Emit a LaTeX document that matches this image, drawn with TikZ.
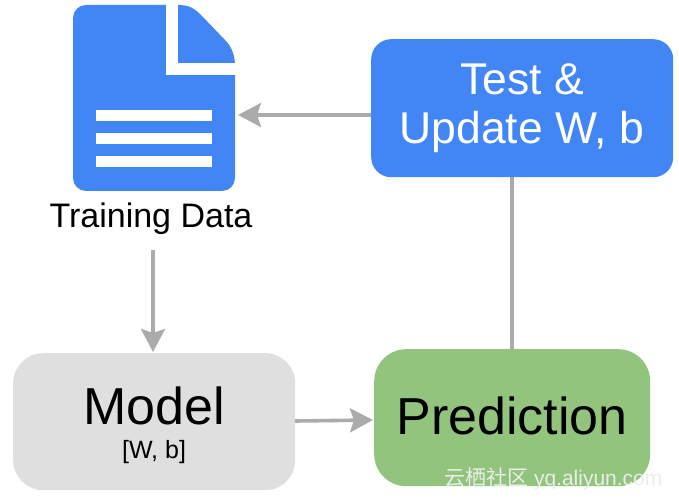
\documentclass[tikz,border=0pt]{standalone}
\usepackage{fontspec}
\setmainfont{Liberation Sans}
\newfontfamily\cjkwm{Noto Sans CJK SC}
\usetikzlibrary{arrows.meta}
\definecolor{docblue}{HTML}{4285F4}
\definecolor{boxgreen}{HTML}{93C47D}
\definecolor{boxgrey}{HTML}{E0DFE0}
\definecolor{linegrey}{HTML}{ABABAB}
\definecolor{wmark}{HTML}{EAEDE8}
\tikzset{
  flowbox/.style={rounded corners=#1,anchor=north west,inner sep=0pt,align=center},
  link/.style={draw=linegrey,line width=3.6pt},
  linkarrow/.style={link,-{Stealth[length=23pt,width=24pt,inset=4pt]}},
}
\begin{document}
\begin{tikzpicture}[x=1pt,y=-1pt]
\useasboundingbox (0,0) rectangle (679,502);
% document icon
\node[minimum width=162pt,minimum height=186pt,inner sep=0pt] (doc) at (154,98) {};
\fill[docblue,rounded corners=13pt] (73,5) rectangle (235,191);
\fill[white] (166,0) rectangle (240,75);
\fill[docblue] (178,5) .. controls (190,5) and (195,9) .. (201,15) -- (225,40) .. controls (231,46) and (234,53) .. (235,63) -- (178,63) -- cycle;
\fill[white] (96,110) rectangle (212,121);
\fill[white] (96,133) rectangle (212,144);
\fill[white] (96,156) rectangle (212,167);
\node[font=\fontsize{34}{40}\selectfont] (train) at (151,219) {Training Data};
% boxes
\node[flowbox=20pt,fill=docblue,text=white,minimum width=302pt,minimum height=138pt,font=\fontsize{44.5}{49}\selectfont] (test) at (371,39) {};
\node[text=white,font=\fontsize{44.5}{49}\selectfont,align=center] (testtxt) at (522,108) {Test \&\\Update W, b};
\node[flowbox=30pt,fill=boxgrey,minimum width=282pt,minimum height=137pt] (model) at (13,353) {};
\node[font=\fontsize{52}{60}\selectfont] (modeltxt) at (154,406) {Model};
\node[font=\fontsize{25}{30}\selectfont] (modelsub) at (154,452) {[W, b]};
\node[flowbox=32pt,fill=boxgreen,minimum width=276pt,minimum height=137pt] (pred) at (374,349) {};
\node[font=\fontsize{52}{60}\selectfont] (predtxt) at (512,416) {Prediction};
% connectors
\coordinate (testport) at (371,115);
\coordinate (docport) at (238,115);
\coordinate (modelport) at (295,421);
\coordinate (predport) at (373,420);
\coordinate (trainport) at (153,250);
\coordinate (modeltop) at (153,352);
\coordinate (testbottom) at (512,177);
\coordinate (predtop) at (512,349);
\draw[linkarrow] (testport) -- (docport);
\draw[linkarrow] (trainport) -- (modeltop);
\draw[linkarrow] (modelport) -- (predport);
\draw[link] (testbottom) -- (predtop);
% watermark
\node[anchor=west,inner sep=0pt,text=wmark,font=\fontsize{21}{24}\selectfont] (wm) at (444,479) {{\cjkwm 云栖社区} yq.aliyun.com};
\end{tikzpicture}
\end{document}
